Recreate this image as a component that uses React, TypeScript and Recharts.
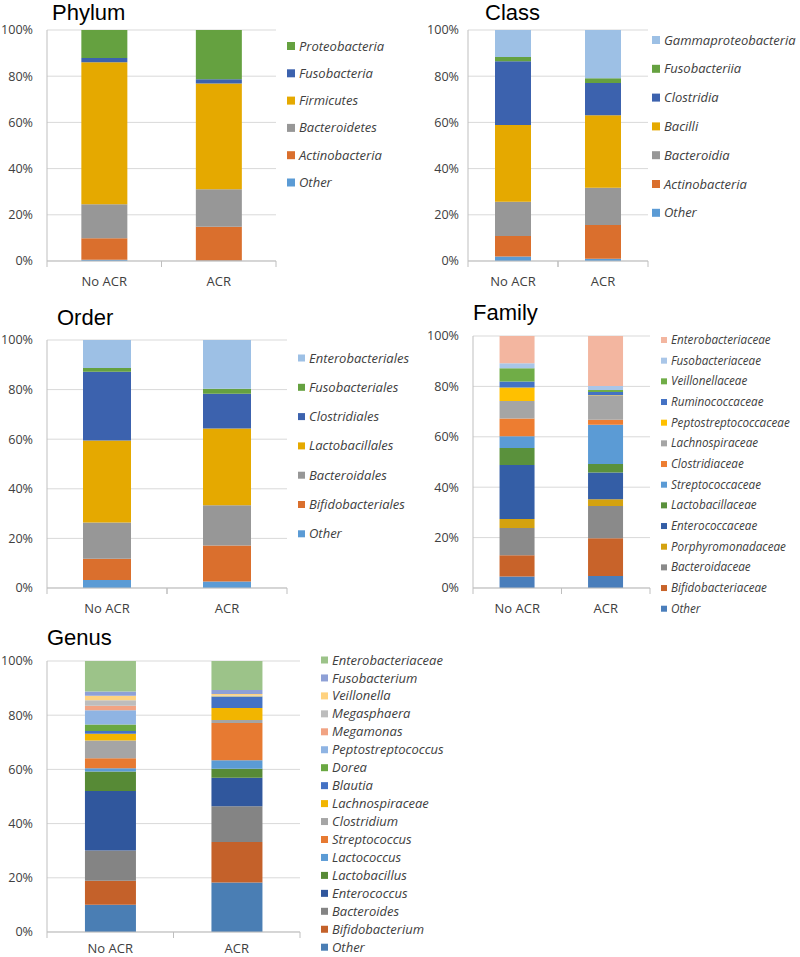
import React from 'react'
import { BarChart, Bar, XAxis, YAxis, CartesianGrid } from 'recharts'

const groups = ['No ACR', 'ACR']
const yTicks = [0, 0.2, 0.4, 0.6, 0.8, 1]

const phylumNames = ['Other', 'Actinobacteria', 'Bacteroidetes', 'Firmicutes', 'Fusobacteria', 'Proteobacteria']
const phylumNoACR = [0.5, 9.3, 14.8, 61.4, 1.9, 12.1]
const phylumACR = [0.2, 14.6, 16.3, 45.7, 1.9, 21.3]
const phylumColors = ['#5B9BD5', '#DA6F2D', '#979797', '#E5A900', '#3C62AE', '#65A140']

const classNames = ['Other', 'Actinobacteria', 'Bacteroidia', 'Bacilli', 'Clostridia', 'Fusobacteriia', 'Gammaproteobacteria']
const classNoACR = [1.9, 8.9, 14.8, 33.3, 27.6, 1.8, 11.7]
const classACR = [1.0, 14.6, 16.1, 31.4, 14.0, 2.0, 20.9]
const classColors = ['#5B9BD5', '#DA6F2D', '#979797', '#E5A900', '#3C62AE', '#65A140', '#9DC0E5']

const orderNames = ['Other', 'Bifidobacteriales', 'Bacteroidales', 'Lactobacillales', 'Clostridiales', 'Fusobacteriales', 'Enterobacteriales']
const orderNoACR = [3.2, 8.6, 14.6, 33.1, 27.7, 1.5, 11.3]
const orderACR = [2.6, 14.5, 16.3, 30.9, 14.0, 2.0, 19.7]
const orderColors = classColors

const familyNames = [
  'Other', 'Bifidobacteriaceae', 'Bacteroidaceae', 'Porphyromonadaceae', 'Enterococcaceae',
  'Lactobacillaceae', 'Streptococcaceae', 'Clostridiaceae', 'Lachnospiraceae', 'Peptostreptococcaceae',
  'Ruminococcaceae', 'Veillonellaceae', 'Fusobacteriaceae', 'Enterobacteriaceae',
]
const familyNoACR = [4.6, 8.4, 10.8, 3.6, 21.4, 6.8, 4.6, 7.1, 6.9, 5.4, 2.3, 5.3, 2.0, 10.8]
const familyACR = [4.8, 14.9, 12.8, 2.7, 10.6, 3.4, 15.6, 2.0, 9.7, 0.1, 1.2, 0.8, 1.6, 19.8]
const familyColors = [
  '#4A7EBB', '#C8632A', '#8A8A8A', '#D4A20F', '#345EA6', '#5A913C', '#5B9BD5',
  '#ED7D31', '#A5A5A5', '#FFC000', '#4472C4', '#70AD47', '#A9C6E8', '#F3B6A0',
]

const genusNames = [
  'Other', 'Bifidobacterium', 'Bacteroides', 'Enterococcus', 'Lactobacillus', 'Lactococcus',
  'Streptococcus', 'Clostridium', 'Lachnospiraceae', 'Blautia', 'Dorea', 'Peptostreptococcus',
  'Megamonas', 'Megasphaera', 'Veillonella', 'Fusobacterium', 'Enterobacteriaceae',
]
const genusNoACR = [10.1, 8.8, 11.2, 21.9, 7.2, 1.2, 3.7, 6.6, 2.5, 1.0, 2.4, 5.2, 1.7, 2.0, 1.7, 1.5, 11.3]
const genusACR = [18.3, 14.9, 13.2, 10.5, 3.3, 3.2, 13.7, 1.1, 4.5, 4.0, 0.2, 0.1, 0.1, 0.2, 0.5, 1.5, 10.7]
const genusColors = [
  '#4A7EB4', '#C4612A', '#848484', '#30579D', '#578A36', '#5B9BD5', '#E77A32', '#A5A5A5',
  '#F2B500', '#4472C4', '#6AA842', '#8FB4E3', '#F1A383', '#BDBDBD', '#FFD27F', '#8EA0D6', '#9CC389',
]

const FONT = '"Open Sans", sans-serif'
const TITLE_FONT = '"Liberation Sans", Arial, sans-serif'
const AXIS = '#bfbfbf'
const TEXT = '#404040'

// plot box in page coords, y label gap, title spot, legend layout
const panels = [
  { title: 'Phylum', names: phylumNames, a: phylumNoACR, b: phylumACR, colors: phylumColors,
    box: [47, 30, 276, 261], gap: 14, yW: 47, lab: 24.6, tx: 52, ty: 20, lx: 287, ly: 46, step: 27.3, fs: 13, sq: 8 },
  { title: 'Class', names: classNames, a: classNoACR, b: classACR, colors: classColors,
    box: [468, 30, 648, 261], gap: 9, yW: 60, lab: 24.6, tx: 485, ty: 20, lx: 652, ly: 40, step: 28.8, fs: 13, sq: 8 },
  { title: 'Order', names: orderNames, a: orderNoACR, b: orderACR, colors: orderColors,
    box: [47, 340, 287, 588], gap: 14, yW: 47, lab: 24.6, tx: 57, ty: 325, lx: 298, ly: 358, step: 29.3, fs: 13, sq: 7 },
  { title: 'Family', names: familyNames, a: familyNoACR, b: familyACR, colors: familyColors,
    box: [473, 336, 650, 588], gap: 14, yW: 60, lab: 24.6, tx: 473, ty: 320, lx: 661, ly: 340, step: 20.67, fs: 11.7, sq: 6 },
  { title: 'Genus', names: genusNames, a: genusNoACR, b: genusACR, colors: genusColors,
    box: [47, 661, 300, 932], gap: 14, yW: 47, lab: 21, tx: 47, ty: 645, lx: 321, ly: 660, step: 17.95, fs: 13, sq: 7 },
]

function Panel({ p }: { p: any }) {
  const [x0, y0, x1, y1] = p.box
  const yW = p.yW
  const top = 14
  const band = (x1 - x0) / groups.length
  const rows = groups.map((g, gi) => {
    const r: any = { name: g }
    p.names.forEach((n: string, i: number) => { r[n] = (gi === 0 ? p.a : p.b)[i] })
    return r
  })
  const XTick = (t: any) => (
    <g>
      <line x1={t.x - band / 2} x2={t.x - band / 2} y1={t.y} y2={t.y + 6} stroke={AXIS} />
      <line x1={t.x + band / 2} x2={t.x + band / 2} y1={t.y} y2={t.y + 6} stroke={AXIS} />
      <text x={t.x} y={t.y + p.lab} textAnchor="middle" fontSize={13} fill={TEXT} fontFamily={FONT}>
        {t.payload.value}
      </text>
    </g>
  )
  return (
    <div style={{ position: 'absolute', left: x0 - yW, top: y0 - top }}>
      <BarChart
        width={x1 - x0 + yW + 5}
        height={y1 - y0 + top + 34}
        data={rows}
        stackOffset="expand"
        barCategoryGap="30%"
        margin={{ top, right: 5, left: 0, bottom: 0 }}
      >
        <CartesianGrid vertical={false} stroke="#d9d9d9" />
        <XAxis dataKey="name" height={34} interval={0} tickSize={0} tickMargin={0}
          axisLine={{ stroke: AXIS }} tickLine={false} tick={XTick} />
        <YAxis width={yW} ticks={yTicks} domain={[0, 1]} interval={0}
          tickFormatter={(v: number) => Math.round(v * 100) + '%'}
          axisLine={{ stroke: AXIS }} tickLine={false} tickSize={0} tickMargin={p.gap}
          tick={{ fill: TEXT, fontSize: 12.6, fontFamily: FONT }} />
        {p.names.map((n: string, i: number) => (
          <Bar key={n} dataKey={n} stackId="s" fill={p.colors[i]} isAnimationActive={false} />
        ))}
      </BarChart>
    </div>
  )
}

export default function App() {
  return (
    <div style={{ position: 'absolute', left: 0, top: 0, width: 800, height: 957, background: '#fff', overflow: 'hidden' }}>
      {panels.map((p) => <Panel key={p.title} p={p} />)}
      <svg width={800} height={957} style={{ position: 'absolute', left: 0, top: 0, pointerEvents: 'none' }}>
        {panels.map((p) => (
          <g key={p.title}>
            <text x={p.tx} y={p.ty} fontSize={22} fontFamily={TITLE_FONT} fill="#000">{p.title}</text>
            {[...p.names].reverse().map((n: string, k: number) => {
              const i = p.names.length - 1 - k
              const cy = p.ly + k * p.step
              return (
                <g key={n}>
                  <rect x={p.lx} y={cy - p.sq / 2} width={p.sq} height={p.sq} fill={p.colors[i]} />
                  <text x={p.lx + p.sq + 4} y={cy + p.fs * 0.35} fontSize={p.fs} fontStyle="italic"
                    fontFamily={FONT} fill={TEXT}>{n}</text>
                </g>
              )
            })}
          </g>
        ))}
      </svg>
    </div>
  )
}
